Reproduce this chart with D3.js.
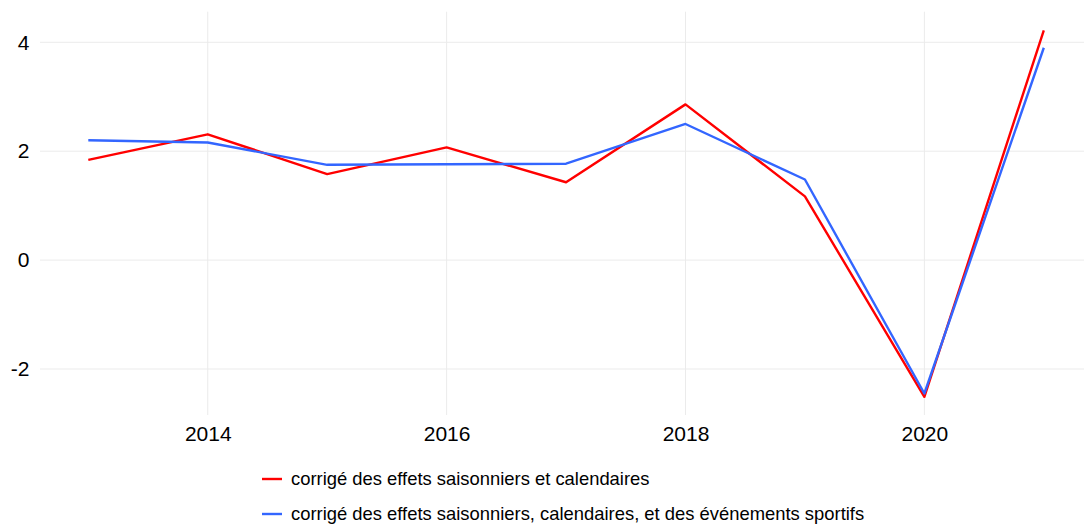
<!DOCTYPE html>
<html><head><meta charset="utf-8">
<script src="https://cdn.jsdelivr.net/npm/d3@7"></script>
<style>body{margin:0;background:#fff;}svg{display:block;font-family:"Liberation Sans",Arial,sans-serif;}</style>
</head><body>
<svg id="c" width="1084" height="529"></svg>
<script>
const years = [2013,2014,2015,2016,2017,2018,2019,2020,2021];
const seriesRed = [1.84,2.31,1.58,2.07,1.43,2.86,1.17,-2.51,4.22];
const seriesBlue = [2.20,2.16,1.75,1.76,1.77,2.50,1.48,-2.45,3.90];
const seriesNames = ["corrigé des effets saisonniers et calendaires","corrigé des effets saisonniers, calendaires, et des événements sportifs"];
const seriesColors = ["#FF0000","#3366FF"];
const xTicks = [2014,2016,2018,2020];
const yTicks = [-2,0,2,4];

(function(){
const svg = d3.select("#c");
const x = d3.scaleLinear().domain([2013,2021]).range([88.3,1043.8]);
const y = d3.scaleLinear().domain([-2,4]).range([369,42.3]);
const pTop = 11.7, pBottom = 415, pLeft = 40, pRight = 1084;

const g = svg.append("g");
g.selectAll(".hg").data(yTicks).join("line")
  .attr("x1",pLeft).attr("x2",pRight).attr("y1",d=>y(d)).attr("y2",d=>y(d))
  .attr("stroke","#EBEBEB").attr("stroke-width",1);
g.selectAll(".vg").data(xTicks).join("line")
  .attr("y1",pTop).attr("y2",pBottom).attr("x1",d=>x(d)).attr("x2",d=>x(d))
  .attr("stroke","#EBEBEB").attr("stroke-width",1);

const yAxis = svg.append("g").attr("transform",`translate(${pLeft},0)`)
  .call(d3.axisLeft(y).tickValues(yTicks).tickFormat(d=>String(d)).tickSize(0).tickPadding(10.5));
yAxis.select(".domain").remove();
yAxis.selectAll("text").attr("font-size",21).attr("fill","#000").attr("font-family","'Liberation Sans',Arial,sans-serif");

const xAxis = svg.append("g").attr("transform",`translate(0,${pBottom})`)
  .call(d3.axisBottom(x).tickValues(xTicks).tickFormat(d=>String(d)).tickSize(0).tickPadding(11));
xAxis.select(".domain").remove();
xAxis.selectAll("text").attr("font-size",21).attr("fill","#000").attr("font-family","'Liberation Sans',Arial,sans-serif");

const line = d3.line().x((d,i)=>x(years[i])).y(d=>y(d));
[seriesRed, seriesBlue].forEach((s,i)=>{
  svg.append("path").datum(s).attr("d",line).attr("fill","none")
    .attr("stroke",seriesColors[i]).attr("stroke-width",2.4).attr("stroke-linejoin","round");
});

const leg = svg.append("g");
seriesNames.forEach((n,i)=>{
  const yy = 479 + i*35;
  leg.append("line").attr("x1",262).attr("x2",282).attr("y1",yy).attr("y2",yy)
    .attr("stroke",seriesColors[i]).attr("stroke-width",2.4);
  leg.append("text").attr("x",291).attr("y",yy).attr("dy","0.35em")
    .attr("font-size",18.4).attr("fill","#000").text(n);
});
})();
</script>
</body></html>
